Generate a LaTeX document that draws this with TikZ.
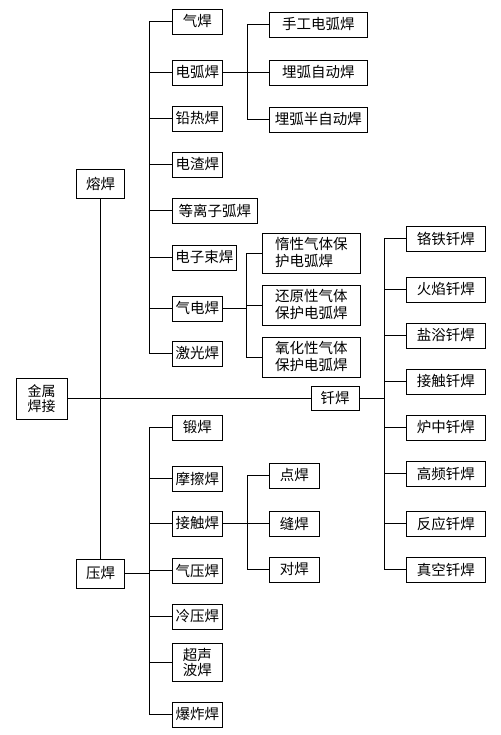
\documentclass[tikz,border=0pt]{standalone}
\usepackage{fontspec}
\setmainfont{Noto Sans CJK SC}
\usepackage{tikz}
\tikzset{box/.style={draw,line width=0.9pt,inner sep=0pt,minimum width=50pt,minimum height=25pt,font=\fontsize{14.5}{17}\selectfont}}
\tikzset{bus/.style={line width=1pt}}
\newcommand{\method}[4][]{\node[box,anchor=west,#1] at (#2) (#3) {#4}}

\begin{document}
\begin{tikzpicture}[x=1pt,y=-1pt]
		\useasboundingbox (0,0) rectangle (500,735);
		% level 0 and 1
		\node[box,minimum width=51pt,minimum height=41pt,align=center,font=\fontsize{14}{14.5}\selectfont] at (41.5,398.5) (jsh) {金属\\焊接};
		\node[box,minimum width=48pt,minimum height=29pt] at (100.5,183.5) (rh) {熔焊};
		\node[box,minimum width=48pt,minimum height=29pt] at (100.5,573.5) (yh) {压焊};
		\node[box,minimum width=48pt,minimum height=24pt] at (335,398.5) (qh) {钎焊};
		
		% fusion welding
		\method{172,21.5}{qih}{气焊};
		\method{172,72.5}{dhh}{电弧焊};
		\method{172,118.5}{qrh}{铅热焊};
		\method{172,164.5}{dzh}{电渣焊};
		\method[minimum width=85pt]{172,210.5}{dlzh}{等离子弧焊};
		\method[minimum width=64pt]{172,257.5}{dzsh}{电子束焊};
		\method{172,308.5}{qdh}{气电焊};
		\method{172,353.5}{jgh}{激光焊};
		
		\method[minimum width=98pt]{269,24.5}{sg}{手工电弧焊};
		\method[minimum width=98pt]{269,72.5}{mhz}{埋弧自动焊};
		\method[minimum width=98pt]{269,119.5}{mhb}{埋弧半自动焊};
		
		\method[minimum width=98pt,minimum height=40pt,align=left]{262,253}{dx}{惰性气体保\\护电弧焊};
		\method[minimum width=98pt,minimum height=40pt,align=left]{262,305}{hy}{还原性气体\\保护电弧焊};
		\method[minimum width=98pt,minimum height=40pt,align=left]{262,357}{yx}{氧化性气体\\保护电弧焊};
		
		% pressure welding
		\method{172,427.5}{dh}{锻焊};
		\method{172,478.5}{mch}{摩擦焊};
		\method{172,523.5}{jch}{接触焊};
		\method{172,570.5}{qyh}{气压焊};
		\method{172,616.5}{lyh}{冷压焊};
		\method[minimum height=38pt,align=center,font=\fontsize{14.5}{15}\selectfont]{172,662}{csb}{超声\\波焊};
		\method{172,714.5}{bzh}{爆炸焊};
		
		\method{269,475.5}{ddh}{点焊};
		\method{269,523.5}{fh}{缝焊};
		\method{269,569.5}{duih}{对焊};
		
		% brazing
		\method[minimum width=79pt]{406,238.5}{lt}{铬铁钎焊};
		\method[minimum width=79pt]{406,289.5}{hy2}{火焰钎焊};
		\method[minimum width=79pt]{406,335.5}{yy}{盐浴钎焊};
		\method[minimum width=79pt]{406,381.5}{jc}{接触钎焊};
		\method[minimum width=79pt]{406,427.5}{lz}{炉中钎焊};
		\method[minimum width=79pt]{406,473.5}{gp}{高频钎焊};
		\method[minimum width=79pt]{406,523.5}{fy}{反应钎焊};
		\method[minimum width=79pt]{406,569.5}{zk}{真空钎焊};
		
		\draw[bus] (jsh) -- (qh)
		(rh) -- (yh);
		
		\draw[bus] (qih.west) -- ++(-23,0) |- (jgh.west);
		\draw[bus] (dhh.west) -- ++(-23,0)
		(qrh.west) -- ++(-23,0)
		(dzh.west) -- ++(-23,0)
		(dlzh.west) -- ++(-23,0)
		(dzsh.west) -- ++(-23,0)
		(qdh.west) -- ++(-23,0);
		
		\draw[bus] (dhh.east) -- ++(25,0)
		(sg.west) -- ++(-22,0) |- (mhb.west)
		(mhz.west) -- ++(-22,0);
		\draw[bus] (qdh.east) -- ++(24,0)
		(dx.west) -- ++(-16,0) |- (yx.west)
		(hy.west) -- ++(-16,0);
		
		\draw[bus] (dh.west) -- ++(-23,0) |- (bzh.west);
		\draw[bus] (yh.east) -- ++(24,0)
		(mch.west) -- ++(-23,0)
		(jch.west) -- ++(-23,0)
		(qyh.west) -- ++(-23,0)
		(lyh.west) -- ++(-23,0)
		(csb.west) -- ++(-23,0);
		\draw[bus] (jch.east) -- ++(25,0)
		(ddh.west) -- ++(-22,0) |- (duih.west)
		(fh.west) -- ++(-22,0);
		
		\draw[bus] (qh.east) -- ++(25,0)
		(lt.west) -- ++(-22,0) |- (zk.west)
		(hy2.west) -- ++(-22,0)
		(yy.west) -- ++(-22,0)
		(jc.west) -- ++(-22,0)
		(lz.west) -- ++(-22,0)
		(gp.west) -- ++(-22,0)
		(fy.west) -- ++(-22,0);
	\end{tikzpicture}
\end{document}
